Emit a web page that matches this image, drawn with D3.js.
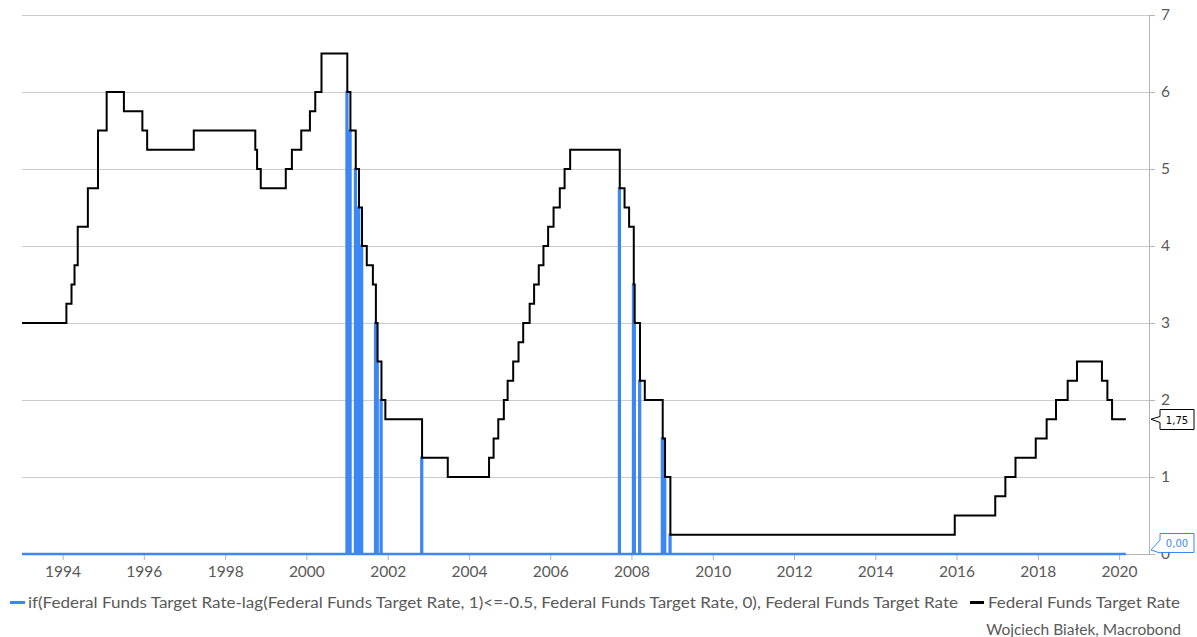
<!DOCTYPE html>
<html>
<head>
<meta charset="utf-8">
<script src="https://cdn.jsdelivr.net/npm/d3@7"></script>
<style>
  html, body { margin: 0; padding: 0; background: #ffffff; }
  svg { display: block; }
  text { font-family: Lato, "Open Sans", sans-serif; }
</style>
</head>
<body>
<svg id="chart" width="1197" height="637"></svg>
<script>
// ---- Data ----
// Federal Funds Target Rate: dates of change and new level (%)
const rateDates = [
  "1993-01-01","1994-02-04","1994-03-22","1994-04-18","1994-05-17","1994-08-16","1994-11-15",
  "1995-02-01","1995-07-06","1995-12-19","1996-01-31","1997-03-25","1998-09-29","1998-10-15",
  "1998-11-17","1999-06-30","1999-08-24","1999-11-16","2000-02-02","2000-03-21","2000-05-16",
  "2001-01-03","2001-01-31","2001-03-20","2001-04-18","2001-05-15","2001-06-27","2001-08-21",
  "2001-09-17","2001-10-02","2001-11-06","2001-12-11","2002-11-06","2003-06-25","2004-06-30",
  "2004-08-10","2004-09-21","2004-11-10","2004-12-14","2005-02-02","2005-03-22","2005-05-03",
  "2005-06-30","2005-08-09","2005-09-20","2005-11-01","2005-12-13","2006-01-31","2006-03-28",
  "2006-05-10","2006-06-29","2007-09-18","2007-10-31","2007-12-11","2008-01-22","2008-01-30",
  "2008-03-18","2008-04-30","2008-10-08","2008-10-29","2008-12-16","2015-12-16","2016-12-14",
  "2017-03-15","2017-06-14","2017-12-13","2018-03-21","2018-06-13","2018-09-26","2018-12-19",
  "2019-07-31","2019-09-18","2019-10-30"
];
const rateValues = [
  3.00,3.25,3.50,3.75,4.25,4.75,5.50,
  6.00,5.75,5.50,5.25,5.50,5.25,5.00,
  4.75,5.00,5.25,5.50,5.75,6.00,6.50,
  6.00,5.50,5.00,4.50,4.00,3.75,3.50,
  3.00,2.50,2.00,1.75,1.25,1.00,1.25,
  1.50,1.75,2.00,2.25,2.50,2.75,3.00,
  3.25,3.50,3.75,4.00,4.25,4.50,4.75,
  5.00,5.25,4.75,4.50,4.25,3.50,3.00,
  2.25,2.00,1.50,1.00,0.25,0.50,0.75,
  1.00,1.25,1.50,1.75,2.00,2.25,2.50,
  2.25,2.00,1.75
];
const seriesEnd = "2020-03-02";

// if(rate - lag(rate,1) <= -0.5, rate, 0): non-zero only on these dates
const cutDates = [
  "2001-01-03","2001-01-31","2001-03-20","2001-04-18","2001-05-15","2001-09-17","2001-10-02",
  "2001-11-06","2002-11-06","2007-09-18","2008-01-22","2008-01-30","2008-03-18","2008-10-08",
  "2008-10-29","2008-12-16"
];
const cutValues = [
  6.00,5.50,5.00,4.50,4.00,3.00,2.50,
  2.00,1.25,4.75,3.50,3.00,2.25,1.50,
  1.00,0.25
];

const xTickYears = [1994,1996,1998,2000,2002,2004,2006,2008,2010,2012,2014,2016,2018,2020];
const yTicks = [0,1,2,3,4,5,6,7];

const seriesNames = [
  "if(Federal Funds Target Rate-lag(Federal Funds Target Rate, 1)<=-0.5, Federal Funds Target Rate, 0), Federal Funds Target Rate",
  "Federal Funds Target Rate"
];
const lastLabels = ["0,00", "1,75"];
const credit = "Wojciech Białek, Macrobond";

// ---- Layout ----
const parse = d3.timeParse("%Y-%m-%d");
const svg = d3.select("#chart");
const L = 22, R = 1149, T = 15, B = 554;
const BLUE = "#3d87f5", GRID = "#cccccc", AXIS = "#b3b3b3", TXT = "#595959";

const x = d3.scaleTime()
  .domain([parse("1993-01-01"), parse("2020-09-26")])
  .range([L, R]);
const y = d3.scaleLinear().domain([0, 7]).range([B, T]);

// gridlines
svg.append("g").selectAll("line").data(yTicks.filter(d => d > 0)).join("line")
  .attr("x1", L).attr("x2", R)
  .attr("y1", d => y(d)).attr("y2", d => y(d))
  .attr("stroke", GRID).attr("stroke-width", 1).attr("shape-rendering", "crispEdges");

// right axis
const yAxis = d3.axisRight(y).tickValues(yTicks).tickSize(6).tickPadding(6).tickFormat(d3.format("d"));
const gy = svg.append("g").attr("transform", `translate(${R},0)`).call(yAxis);
gy.select(".domain").attr("stroke", AXIS);
gy.selectAll(".tick line").attr("stroke", AXIS);
gy.selectAll(".tick text").attr("fill", TXT).style("font-size", "15.5px").style("font-family", "Lato, sans-serif");

// bottom axis
const xAxis = d3.axisBottom(x)
  .tickValues(xTickYears.map(yr => new Date(yr, 0, 1)))
  .tickSize(6).tickPadding(6).tickFormat(d3.timeFormat("%Y"));
const gx = svg.append("g").attr("transform", `translate(0,${B})`).call(xAxis);
gx.select(".domain").attr("stroke", AXIS).attr("d", `M${L},0.5H${R}`);
gx.selectAll(".tick line").attr("stroke", AXIS);
gx.selectAll(".tick text").attr("fill", TXT).style("font-size", "15.5px").style("font-family", "Lato, sans-serif");

// blue series
const endDate = parse(seriesEnd);
const bluePts = [[parse(rateDates[0]), 0]];
cutDates.forEach((ds, i) => {
  const d = parse(ds);
  const d0 = d3.timeDay.offset(d, -6);
  bluePts.push([d0, 0], [d0, cutValues[i]], [d, cutValues[i]], [d, 0]);
});
bluePts.push([endDate, 0]);
svg.append("path")
  .attr("d", d3.line().x(d => x(d[0])).y(d => y(d[1]))(bluePts))
  .attr("fill", "none").attr("stroke", BLUE).attr("stroke-width", 2.6)
  .attr("stroke-linejoin", "miter");

// black series
const blackPts = rateDates.map((ds, i) => [parse(ds), rateValues[i]]);
blackPts.push([endDate, rateValues[rateValues.length - 1]]);
svg.append("path")
  .attr("d", d3.line().curve(d3.curveStepAfter).x(d => x(d[0])).y(d => y(d[1]))(blackPts))
  .attr("fill", "none").attr("stroke", "#000").attr("stroke-width", 2);

// value callouts
function callout(tipY, boxTop, boxBot, color, label) {
  const tipX = R + 2, bx = 1160, bw = 34;
  const mid = (boxTop + boxBot) / 2;
  const g = svg.append("g");
  g.append("path")
    .attr("d", `M${tipX},${tipY} L${bx},${Math.min(mid - 3, tipY - 2)} L${bx},${boxTop} L${bx + bw},${boxTop} L${bx + bw},${boxBot} L${bx},${boxBot} L${bx},${Math.max(mid + 3, tipY + 3)} Z`)
    .attr("fill", "#fff").attr("stroke", color).attr("stroke-width", 1);
  g.append("text").attr("x", bx + bw / 2).attr("y", mid + 4)
    .attr("text-anchor", "middle").attr("fill", color)
    .style("font-family", "'DejaVu Sans', sans-serif").style("font-size", "10px")
    .text(label);
}
callout(y(rateValues[rateValues.length - 1]), 409.5, 429.5, "#000", lastLabels[1]);
callout(550, 533.5, 552.5, BLUE, lastLabels[0]);

// legend
const lg = svg.append("g");
lg.append("line").attr("x1", 10).attr("x2", 25).attr("y1", 602.5).attr("y2", 602.5)
  .attr("stroke", BLUE).attr("stroke-width", 3);
lg.append("text").attr("x", 28).attr("y", 608).attr("fill", TXT)
  .style("font-size", "15.5px").attr("textLength", 930).attr("lengthAdjust", "spacingAndGlyphs")
  .text(seriesNames[0]);
lg.append("line").attr("x1", 970).attr("x2", 984).attr("y1", 602.5).attr("y2", 602.5)
  .attr("stroke", "#000").attr("stroke-width", 3);
lg.append("text").attr("x", 988).attr("y", 608).attr("fill", TXT)
  .style("font-size", "15.5px").attr("textLength", 192).attr("lengthAdjust", "spacingAndGlyphs")
  .text(seriesNames[1]);

// credit
svg.append("text").attr("x", 1181).attr("y", 635).attr("text-anchor", "end")
  .attr("fill", TXT).style("font-size", "15.5px").text(credit);
</script>
</body>
</html>
